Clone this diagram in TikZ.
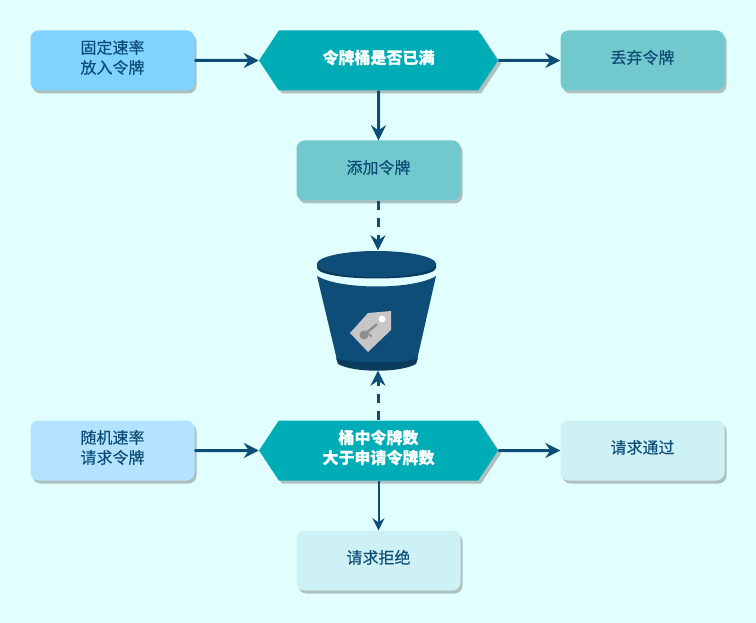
\documentclass[tikz,border=0pt]{standalone}
\usepackage{fontspec}
\setmainfont{Noto Sans CJK SC}[FakeBold=0.25]
\usetikzlibrary{shapes.symbols,shadows,arrows.meta}
\definecolor{bg}{HTML}{E2FFFF}
\definecolor{ink}{HTML}{0D4D78}
\definecolor{inkdark}{HTML}{0A3A5C}
\definecolor{boxa}{HTML}{80D3FF}
\definecolor{boxb}{HTML}{72C9CD}
\definecolor{boxc}{HTML}{B3E3FF}
\definecolor{boxd}{HTML}{CDF1F4}
\definecolor{hexc}{HTML}{00ACB5}
\definecolor{shad}{HTML}{AEBFC0}
\definecolor{tagc}{HTML}{C6C6C6}
\definecolor{keyc}{HTML}{8E8E8E}
\tikzset{
  x=1pt,y=-1pt,
  stepbox/.style={rectangle,rounded corners=8pt,minimum width=164pt,minimum height=60pt,inner sep=0pt,
    text=ink,font=\fontsize{16}{20}\selectfont,align=center,text depth=7.5pt,
    copy shadow={shadow xshift=2pt,shadow yshift=-3pt,fill=shad,draw=none,opacity=1}},
  hexbox/.style={signal,signal to=east and west,signal pointer angle=113,minimum width=239pt,minimum height=60pt,inner sep=0pt,
    fill=hexc,text=white,font=\fontsize{16}{20}\selectfont\bfseries,align=center,text depth=7.5pt,
    copy shadow={shadow xshift=3pt,shadow yshift=-3pt,fill=shad,draw=none,opacity=1}},
  flow/.style={draw=ink,line width=3pt,-{Stealth[length=15pt,width=15pt,inset=5pt]}},
  thinflow/.style={draw=ink,line width=2pt,-{Stealth[length=12pt,width=12pt,inset=4pt]}},
  dashflow/.style={flow,dash pattern=on 9pt off 8pt},
}
\begin{document}
\begin{tikzpicture}
\fill[bg] (0,0) rectangle (756,623);
\useasboundingbox (0,0) rectangle (756,623);
\node[stepbox,fill=boxa] (fixed) at (112.5,60.5) {固定速率\\放入令牌};
\node[hexbox] (full) at (378.5,60.5) {令牌桶是否已满};
\node[stepbox,fill=boxb] (drop) at (642.5,60.5) {丢弃令牌};
\node[stepbox,fill=boxb] (add) at (378.5,170.5) {添加令牌};
\node[minimum width=119pt,minimum height=120pt,inner sep=0pt] (bucket) at (378,310.5) {};
\node[stepbox,fill=boxc] (rand) at (112.5,450.5) {随机速率\\请求令牌};
\node[hexbox] (check) at (378.5,450.5) {桶中令牌数\\大于申请令牌数};
\node[stepbox,fill=boxd] (pass) at (642.5,450.5) {请求通过};
\node[stepbox,fill=boxd] (reject) at (378.5,560.5) {请求拒绝};
% bucket
\fill[ink] (317,276) .. controls (340,290) and (414,290) .. (436,276) -- (417,360) .. controls (400,366) and (354,366) .. (337,360) -- cycle;
\fill[inkdark] (336,358) .. controls (345,364) and (408,364) .. (418,358) -- (416,364) .. controls (400,373) and (354,373) .. (338,364) -- cycle;
\fill[inkdark] (317,263) -- (317,268) .. controls (320,282) and (433,282) .. (436,268) -- (436,263) -- cycle;
\fill[ink] (376.5,264) ellipse[x radius=59.5,y radius=13];
\fill[tagc] (350,333) -- (368,313) -- (391,311) -- (391,330) -- (368,352) -- cycle;
\fill[white] (382,319) circle[radius=3.5];
\fill[keyc] (364,335) circle[radius=4.5];
\draw[keyc,line width=2.4pt] (364,335) -- (377,324);
\draw[keyc,line width=1.6pt] (368.5,333.5) -- (371.5,336.5);
% connectors
\draw[flow] (fixed) -- (full);
\draw[flow] (full) -- (drop);
\draw[flow] (full) -- (full|-add.north);
\draw[dashflow] (add.south-|bucket) -- (bucket.north);
\draw[flow] (rand) -- (check);
\draw[flow] (check) -- (pass);
\draw[thinflow] (check) ++(0,30) -- (reject.north-|check);
\draw[dashflow] (check.north-|bucket) -- (bucket.south);
\end{tikzpicture}
\end{document}
